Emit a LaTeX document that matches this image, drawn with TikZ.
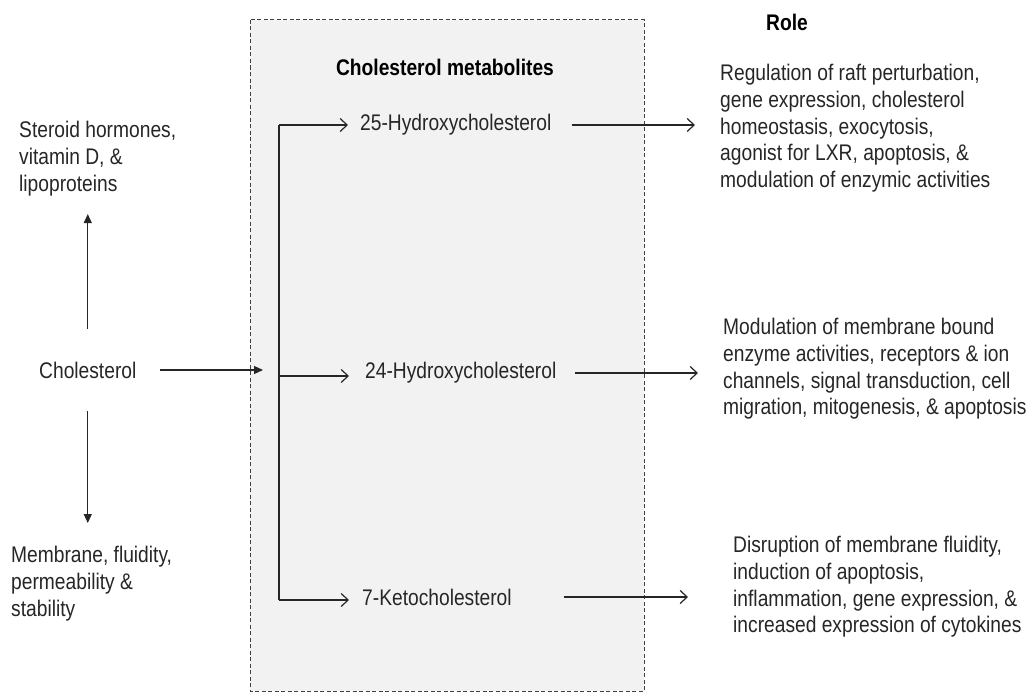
\documentclass[tikz,border=0pt]{standalone}
\usepackage{fontspec}
\setmainfont[FakeStretch=0.85]{Liberation Sans}
\usetikzlibrary{arrows.meta}
\begin{document}
\begin{tikzpicture}[x=1pt,y=-1pt,
  txt/.style={font=\fontsize{22.6}{26.8}\selectfont, inner sep=0pt, align=left, text=black!85},
  ttl/.style={font=\fontsize{22.6}{26.8}\selectfont\bfseries, inner sep=0pt},
  conn/.style={line width=1.2pt, black!85},
  openarr/.style={conn, -{Straight Barb[length=7pt,width=13pt,line width=1.2pt]}},
  fillarr/.style={conn, -{Triangle[length=9pt,width=8pt]}},
  metabox/.style={draw=black!75, fill=gray!10, line width=1pt, dash pattern=on 4pt off 2.5pt}
]
\useasboundingbox (0,0) rectangle (1035,693);
% dashed box
\draw[metabox] (250,20) rectangle (644,691);

% titles
\node[ttl] (mtitle) at (445,67) {Cholesterol metabolites};
\node[ttl] (role) at (787,22) {Role};

% left texts
\node[txt, anchor=west] (chol) at (39,370) {Cholesterol};
\node[txt, anchor=north west] (ster) at (19,121) {Steroid hormones,\\vitamin D, \&\\lipoproteins};
\node[txt, anchor=north west] (mem) at (11,546) {Membrane, fluidity,\\permeability \&\\stability};

% metabolites
\node[txt, anchor=west] (h25) at (360,125) {25-Hydroxycholesterol};
\node[txt, anchor=west] (h24) at (365,373) {24-Hydroxycholesterol};
\node[txt, anchor=west] (k7) at (362,597) {7-Ketocholesterol};

% roles
\node[txt, anchor=north west] (r1) at (720,64) {Regulation of raft perturbation,\\gene expression, cholesterol\\homeostasis, exocytosis,\\agonist for LXR, apoptosis, \&\\modulation of enzymic activities};
\node[txt, anchor=north west] (r2) at (723,318) {Modulation of membrane bound\\enzyme activities, receptors \& ion\\channels, signal transduction, cell\\migration, mitogenesis, \& apoptosis};
\node[txt, anchor=north west] (r3) at (733,536) {Disruption of membrane fluidity,\\induction of apoptosis,\\inflammation, gene expression, \&\\increased expression of cytokines};

% bracket coordinates
\coordinate (btop) at (279,125);
\coordinate (bmid) at (279,376);
\coordinate (bbot) at (279,600);
\coordinate (entry) at (263,370);

% cholesterol arrows
\draw[fillarr, shorten <=23pt] (chol.east) -- (entry);
\draw[fillarr, shorten <=33pt, shorten >=18pt] (chol.north) -- (chol.north |- ster.south);
\draw[fillarr, shorten <=32pt, shorten >=23pt] (chol.south) -- (chol.south |- mem.north);

% bracket
\draw[conn] (btop) -- (bbot);
\draw[openarr, shorten >=12pt] (btop) -- (btop -| h25.west);
\draw[openarr, shorten >=16pt] (bmid) -- (bmid -| h24.west);
\draw[openarr, shorten >=13pt] (bbot) -- (bbot -| k7.west);

% role arrows
\draw[openarr, shorten <=20pt, shorten >=25pt] (h25.east) -- (h25.east -| r1.west);
\draw[openarr, shorten <=18pt, shorten >=25pt] (h24.east) -- (h24.east -| r2.west);
\draw[openarr, shorten <=52pt, shorten >=45pt] (k7.east) -- (k7.east -| r3.west);
\end{tikzpicture}
\end{document}
